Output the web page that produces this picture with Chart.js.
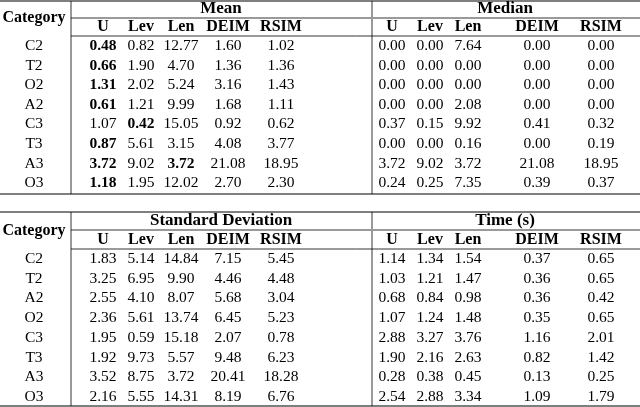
<!DOCTYPE html>
<html><head><meta charset="utf-8">
<script src="https://cdn.jsdelivr.net/npm/chart.js@4/dist/chart.umd.min.js"></script>
<style>html,body{margin:0;padding:0;background:#fff}#w{width:640px;height:407px}</style>
</head><body><div id="w"><canvas id="c"></canvas></div>
<script>
const categoriesTop = ["C2","T2","O2","A2","C3","T3","A3","O3"];
const categoriesBottom = ["C2","T2","A2","O2","C3","T3","A3","O3"];
const metrics = ["U","Lev","Len","DEIM","RSIM"];
const groupsTop = ["Mean","Median"];
const groupsBottom = ["Standard Deviation","Time (s)"];
const meanVals = [
 [0.48,0.82,12.77,1.60,1.02],[0.66,1.90,4.70,1.36,1.36],[1.31,2.02,5.24,3.16,1.43],[0.61,1.21,9.99,1.68,1.11],
 [1.07,0.42,15.05,0.92,0.62],[0.87,5.61,3.15,4.08,3.77],[3.72,9.02,3.72,21.08,18.95],[1.18,1.95,12.02,2.70,2.30]];
const meanBold = [[0],[0],[0],[0],[1],[0],[0,2],[0]];
const medianVals = [
 [0,0,7.64,0,0],[0,0,0,0,0],[0,0,0,0,0],[0,0,2.08,0,0],
 [0.37,0.15,9.92,0.41,0.32],[0,0,0.16,0,0.19],[3.72,9.02,3.72,21.08,18.95],[0.24,0.25,7.35,0.39,0.37]];
const sdVals = [
 [1.83,5.14,14.84,7.15,5.45],[3.25,6.95,9.90,4.46,4.48],[2.55,4.10,8.07,5.68,3.04],[2.36,5.61,13.74,6.45,5.23],
 [1.95,0.59,15.18,2.07,0.78],[1.92,9.73,5.57,9.48,6.23],[3.52,8.75,3.72,20.41,18.28],[2.16,5.55,14.31,8.19,6.76]];
const timeVals = [
 [1.14,1.34,1.54,0.37,0.65],[1.03,1.21,1.47,0.36,0.65],[0.68,0.84,0.98,0.36,0.42],[1.07,1.24,1.48,0.35,0.65],
 [2.88,3.27,3.76,1.16,2.01],[1.90,2.16,2.63,0.82,1.42],[0.28,0.38,0.45,0.13,0.25],[2.54,2.88,3.34,1.09,1.79]];

const colX = [34,103,141,181,228,281,392,430,468,537,601];
const groupX = [221,505];
const sepX = [71,372];
const tables = [
 {top:1,h1:9,h2:27,row0:46,step:19.6,rule2:18,rule3:36,bottom:194,cats:categoriesTop,groups:groupsTop,a:meanVals,b:medianVals,bold:meanBold},
 {top:212,h1:221,h2:240,row0:259,step:19.7,rule2:230,rule3:249,bottom:406,cats:categoriesBottom,groups:groupsBottom,a:sdVals,b:timeVals,bold:null}
];

const tablePlugin = {
  id:'table',
  afterDraw(chart){
    const ctx = chart.ctx, xs = chart.scales.x, ys = chart.scales.y;
    const X = v => xs.getPixelForValue(v), Y = v => ys.getPixelForValue(v);
    const serif = '"Liberation Serif","DejaVu Serif",serif';
    ctx.save(); ctx.fillStyle='#000'; ctx.strokeStyle='#000';
    ctx.textAlign='center'; ctx.textBaseline='middle';
    const line=(x1,y1,x2,y2,w)=>{ctx.lineWidth=w;ctx.beginPath();ctx.moveTo(X(x1),Y(y1));ctx.lineTo(X(x2),Y(y2));ctx.stroke();};
    tables.forEach(t=>{
      line(0,t.top,640,t.top,1.2);
      line(sepX[0],t.rule2,sepX[1]-1,t.rule2,0.8);
      line(sepX[1]+1,t.rule2,640,t.rule2,0.8);
      line(sepX[0],t.rule3,640,t.rule3,0.8);
      line(0,t.bottom,640,t.bottom,1.2);
      sepX.forEach(s=>line(s,t.top,s,t.bottom,0.8));
      ctx.font='bold 16px '+serif;
      ctx.fillText('Category',X(colX[0]),Y((t.h1+t.h2)/2));
      ctx.font='bold 17px '+serif;
      t.groups.forEach((g,i)=>ctx.fillText(g,X(groupX[i]),Y(t.h1)));
      ctx.font='bold 16px '+serif;
      [0,1].forEach(gi=>metrics.forEach((m,j)=>ctx.fillText(m,X(colX[1+gi*5+j]),Y(t.h2))));
      t.cats.forEach((c,r)=>{
        const y=Y(t.row0+r*t.step);
        ctx.font='15.5px '+serif;
        ctx.fillText(c,X(colX[0]),y);
        t.a[r].forEach((v,j)=>{
          const b=t.bold&&t.bold[r].includes(j);
          ctx.font=(b?'bold ':'')+'15.5px '+serif;
          ctx.fillText(v.toFixed(2),X(colX[1+j]),y);
        });
        ctx.font='15.5px '+serif;
        t.b[r].forEach((v,j)=>ctx.fillText(v.toFixed(2),X(colX[6+j]),y));
      });
    });
    ctx.restore();
  }
};

new Chart(document.getElementById('c'),{
  type:'scatter',
  data:{datasets:[{data:[],pointRadius:0}]},
  options:{responsive:true,maintainAspectRatio:false,animation:false,
    layout:{padding:0},
    plugins:{legend:{display:false},tooltip:{enabled:false}},
    scales:{x:{type:'linear',min:0,max:640,display:false},
            y:{type:'linear',min:0,max:407,reverse:true,display:false}}},
  plugins:[tablePlugin]
});
</script></body></html>
